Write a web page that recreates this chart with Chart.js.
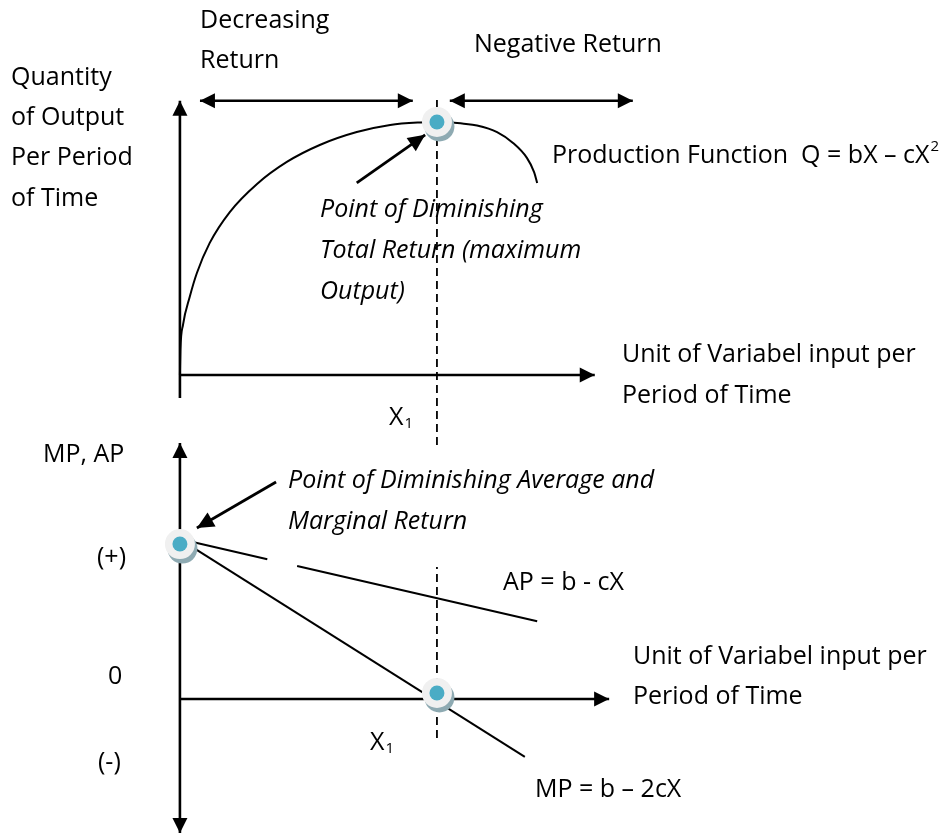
<!DOCTYPE html>
<html lang="en">
<head>
  <meta charset="UTF-8">
  <title>Production Function, MP and AP</title>
  <script src="https://cdn.jsdelivr.net/npm/chart.js"></script>
  <style>
    body {
      margin: 0;
      background: #fff;
    }
    .chart-box {
      width: 951px;
      height: 834px;
    }
  </style>
</head>
<body>
  <div class="chart-box">
    <canvas id="prodChart"></canvas>
  </div>

  <script>
    // Total product curve (X = variable input units, Q = output)
    const tpX = [0, 0.01, 0.06, 0.19, 0.33, 0.58, 0.97, 1.50, 2.08, 2.72, 3.44, 4.09, 4.67, 5.00, 5.25, 5.49, 5.78, 6.17, 6.48, 6.75, 6.89, 6.95];
    const tpQ = [0, 0.99, 1.98, 3.08, 4.03, 5.22, 6.44, 7.55, 8.42, 9.09, 9.60, 9.88, 9.98, 10.00, 9.99, 9.94, 9.86, 9.60, 9.17, 8.58, 8.02, 7.59];

    // Average product (gap where the line is broken in the source)
    const apX = [0.10, 1.70, 2.00, 2.28, 6.95];
    const apY = [10.30, 9.07, null, 8.63, 5.04];

    // Marginal product
    const mpX = [0.15, 6.71];
    const mpY = [10.05, -3.76];

    // X1 and highlighted points
    const x1 = 5;
    const peakQ = 10;
    const apMpDotX = [0, 5];
    const apMpDotY = [10.06, 0.39];

    // axis extents
    const topAxisQ = [-0.91, 10.84];
    const topAxisX = [0, 8.07];
    const botAxisM = [-8.70, 16.62];
    const botAxisX = [0, 8.35];

    // return zones above the curve
    const zoneLevel = 10.84;
    const decRange = [0.39, 4.53];
    const negRange = [5.25, 8.81];

    // dashed X1 guide
    const topDashQ = [-2.77, 10.87];
    const botDashM = [-2.53, 8.57];

    // pointer arrows
    const ptrTopX = [3.44, 4.77];
    const ptrTopQ = [7.59, 9.49];
    const ptrBotX = [1.87, 0.33];
    const ptrBotM = [14.09, 11.10];

    const pts = (xs, ys) => xs.map((x, i) => ({ x: x, y: ys[i] }));

    // text labels (layout positions in px, left aligned, vertically centred)
    const notes = [
      { t: "Decreasing", x: 200, y: 21 },
      { t: "Return", x: 200, y: 61 },
      { t: "Negative Return", x: 474, y: 45 },
      { t: "Quantity", x: 11, y: 78 },
      { t: "of Output", x: 11, y: 118 },
      { t: "Per Period", x: 11, y: 158 },
      { t: "of Time", x: 11, y: 199 },
      { t: "Production Function  Q = bX \u2013 cX", x: 552, y: 156, sup: "2" },
      { t: "Point of Diminishing", x: 320, y: 210, italic: true },
      { t: "Total Return (maximum", x: 320, y: 251, italic: true },
      { t: "Output)", x: 320, y: 292, italic: true },
      { t: "Unit of Variabel input per", x: 622, y: 355 },
      { t: "Period of Time", x: 622, y: 396 },
      { t: "X", x: 389, y: 418, sub: "1" },
      { t: "MP, AP", x: 43, y: 455 },
      { t: "Point of Diminishing Average and", x: 288, y: 481, italic: true },
      { t: "Marginal Return", x: 288, y: 522, italic: true },
      { t: "(+)", x: 97, y: 558 },
      { t: "AP = b - cX", x: 503, y: 583 },
      { t: "Unit of Variabel input per", x: 633, y: 657 },
      { t: "0", x: 108, y: 677 },
      { t: "Period of Time", x: 633, y: 697 },
      { t: "X", x: 370, y: 743, sub: "1" },
      { t: "(-)", x: 98, y: 763 },
      { t: "MP = b \u2013 2cX", x: 535, y: 790 }
    ];

    const FONT = '"Open Sans", "Noto Sans", sans-serif';

    const drawExtras = {
      id: "drawExtras",
      afterDatasetsDraw(chart) {
        const ctx = chart.ctx;
        // arrow heads
        chart.data.datasets.forEach((ds, i) => {
          if (!ds.arrow) return;
          const p = chart.getDatasetMeta(i).data;
          const head = (a, b) => {
            const ang = Math.atan2(b.y - a.y, b.x - a.x);
            const len = ds.headLen || 15, w = ds.headW || 7.5;
            ctx.save();
            ctx.translate(b.x, b.y);
            ctx.rotate(ang);
            ctx.beginPath();
            ctx.moveTo(0, 0);
            ctx.lineTo(-len, -w);
            ctx.lineTo(-len, w);
            ctx.closePath();
            ctx.fillStyle = "#000";
            ctx.fill();
            ctx.restore();
          };
          const n = p.length;
          if (ds.arrow === "end" || ds.arrow === "both") head(p[n - 2], p[n - 1]);
          if (ds.arrow === "both") head(p[1], p[0]);
        });
        // highlighted dots
        chart.data.datasets.forEach((ds, i) => {
          if (!ds.dot) return;
          chart.getDatasetMeta(i).data.forEach(el => {
            ctx.save();
            ctx.beginPath();
            ctx.arc(el.x + 2.5, el.y + 4.5, 15, 0, Math.PI * 2);
            ctx.fillStyle = "#8eaab2";
            ctx.fill();
            ctx.beginPath();
            ctx.arc(el.x, el.y, 15, 0, Math.PI * 2);
            ctx.fillStyle = "#f0f0f0";
            ctx.fill();
            ctx.beginPath();
            ctx.arc(el.x, el.y, 7.5, 0, Math.PI * 2);
            ctx.fillStyle = "#4aacc5";
            ctx.fill();
            ctx.restore();
          });
        });
      },
      afterDraw(chart) {
        const ctx = chart.ctx;
        ctx.save();
        ctx.fillStyle = "#000";
        ctx.textBaseline = "middle";
        ctx.textAlign = "left";
        notes.forEach(n => {
          ctx.font = (n.italic ? "italic " : "") + "25px " + FONT;
          ctx.fillText(n.t, n.x, n.y);
          const w = ctx.measureText(n.t).width;
          if (n.sup) {
            ctx.font = "15px " + FONT;
            ctx.fillText(n.sup, n.x + w + 1, n.y - 9);
          }
          if (n.sub) {
            ctx.font = "15px " + FONT;
            ctx.fillText(n.sub, n.x + w + 1, n.y + 6);
          }
        });
        ctx.restore();
      }
    };

    const lineDs = (data, axis, extra) => Object.assign({
      data: data,
      yAxisID: axis,
      showLine: true,
      borderColor: "#000",
      borderWidth: 2,
      pointRadius: 0,
      fill: false,
      tension: 0
    }, extra || {});

    new Chart(document.getElementById("prodChart"), {
      type: "scatter",
      data: {
        datasets: [
          // axes
          lineDs(pts([0, 0], topAxisQ), "yQ", { borderWidth: 2.6, arrow: "end" }),
          lineDs(pts(topAxisX, [0, 0]), "yQ", { borderWidth: 2.6, arrow: "end" }),
          lineDs(pts([0, 0], botAxisM), "yM", { borderWidth: 2.6, arrow: "both" }),
          lineDs(pts(botAxisX, [0, 0]), "yM", { borderWidth: 2.6, arrow: "end" }),
          // X1 guides
          lineDs(pts([x1, x1], topDashQ), "yQ", { borderWidth: 1.8, borderDash: [8, 5] }),
          lineDs(pts([x1, x1], botDashM), "yM", { borderWidth: 1.8, borderDash: [8, 5] }),
          // return zones
          lineDs(pts(decRange, [zoneLevel, zoneLevel]), "yQ", { borderWidth: 2.6, arrow: "both" }),
          lineDs(pts(negRange, [zoneLevel, zoneLevel]), "yQ", { borderWidth: 2.6, arrow: "both" }),
          // curves
          lineDs(pts(tpX, tpQ), "yQ", { cubicInterpolationMode: "monotone" }),
          lineDs(pts(apX, apY), "yM", { spanGaps: false }),
          lineDs(pts(mpX, mpY), "yM"),
          // pointers
          lineDs(pts(ptrTopX, ptrTopQ), "yQ", { borderWidth: 2.8, arrow: "end", headLen: 17, headW: 8 }),
          lineDs(pts(ptrBotX, ptrBotM), "yM", { borderWidth: 2.8, arrow: "end", headLen: 17, headW: 8 }),
          // dots
          { data: pts([x1], [peakQ]), yAxisID: "yQ", pointRadius: 0, dot: true },
          { data: pts(apMpDotX, apMpDotY), yAxisID: "yM", pointRadius: 0, dot: true }
        ]
      },
      options: {
        responsive: true,
        maintainAspectRatio: false,
        animation: false,
        layout: { padding: 0 },
        plugins: {
          legend: { display: false },
          tooltip: { enabled: false }
        },
        scales: {
          x: { type: "linear", min: -3.5, max: 15, display: false },
          yQ: { type: "linear", position: "left", min: -18.14, max: 14.82, display: false },
          yM: { type: "linear", position: "left", min: -8.77, max: 45.39, display: false }
        }
      },
      plugins: [drawExtras]
    });
  </script>
</body>
</html>
